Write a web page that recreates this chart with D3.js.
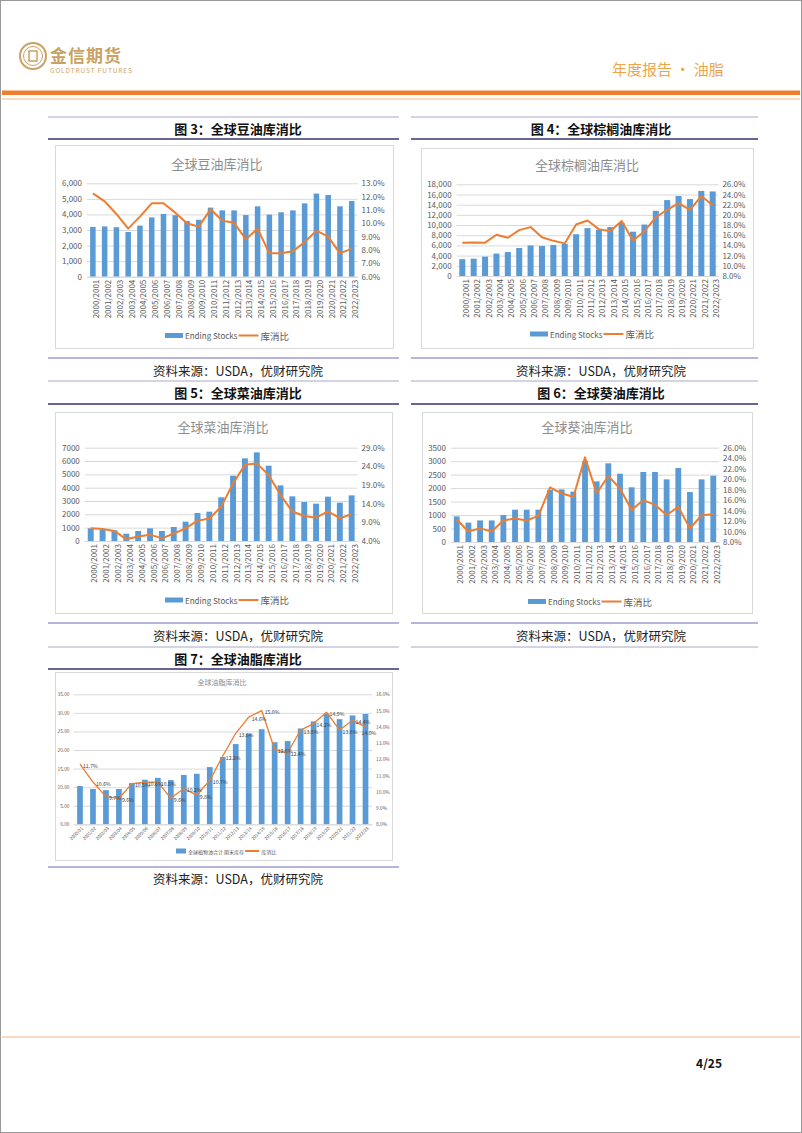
<!DOCTYPE html>
<html>
<head>
<meta charset="utf-8">
<script src="https://cdn.jsdelivr.net/npm/d3@7/dist/d3.min.js"></script>
<style>
  body { margin: 0; background: #fff; }
  text { font-family: "Noto Sans CJK SC", "Noto Sans", sans-serif; }
</style>
</head>
<body>
<svg id="page" width="802" height="1133"></svg>
<script>
// categories
var years = ["2000/2001","2001/2002","2002/2003","2003/2004","2004/2005","2005/2006","2006/2007",
  "2007/2008","2008/2009","2009/2010","2010/2011","2011/2012","2012/2013","2013/2014","2014/2015",
  "2015/2016","2016/2017","2017/2018","2018/2019","2019/2020","2020/2021","2021/2022","2022/2023"];
var yearsShort = ["2000/01","2001/02","2002/03","2003/04","2004/05","2005/06","2006/07","2007/08",
  "2008/09","2009/10","2010/11","2011/12","2012/13","2013/14","2014/15","2015/16","2016/17",
  "2017/18","2018/19","2019/20","2020/21","2021/22","2022/23"];

// 豆油
var soyStocks = [3200,3230,3180,2870,3280,3810,4030,3950,3580,3660,4440,4260,4260,3960,4520,3990,4140,4260,4710,5340,5250,4520,4860];
var soyRatio = [12.25,11.65,10.7,9.6,10.5,11.5,11.5,10.8,10.0,9.75,11.05,10.2,10.05,8.8,9.6,7.75,7.75,7.9,8.6,9.45,9.0,7.75,8.1];
// 棕榈油
var palmStocks = [3300,3400,3800,4400,4700,5500,6000,5900,6100,6300,8200,9400,9100,9600,10400,8700,10100,12800,14900,15700,15100,16700,16600];
var palmRatio = [14.55,14.6,14.55,16.1,15.5,17.0,17.6,15.6,14.9,14.4,18.1,18.9,17.2,16.8,18.8,14.9,16.8,19.5,21.0,22.3,21.0,23.7,21.9];
// 菜油
var rapeStocks = [950,850,800,550,750,950,750,1050,1450,2100,2200,3275,4900,6200,6650,5650,4175,3350,2925,2800,3325,2875,3425];
var rapeRatio = [7.4,7.2,6.7,4.45,5.2,5.7,4.7,6.0,7.4,9.45,10.0,13.2,19.4,24.4,24.8,21.7,16.3,11.9,10.7,10.25,11.95,10.1,11.2];
// 葵油
var sunStocks = [950,720,800,800,1000,1200,1200,1200,1930,1950,1870,3000,2250,2920,2535,2030,2600,2600,2325,2745,1855,2325,2460];
var sunRatio = [12.3,10.0,10.6,10.0,12.1,12.5,12.1,13.0,18.4,17.3,16.6,24.15,17.3,20.6,18.2,14.1,16.0,15.1,13.15,14.7,10.6,13.1,13.3];
// 油脂合计
var oilStocks = [10.3,9.5,9.2,9.5,11.1,12.0,12.5,11.9,13.3,13.6,15.4,18.1,21.6,24.3,25.6,22.1,22.4,25.8,27.7,29.8,28.3,29.3,29.7];
var oilRatio = [11.7,10.6,9.7,9.6,10.5,10.6,10.6,9.6,10.2,9.8,10.7,12.2,13.6,14.6,15.0,12.6,12.4,13.8,14.2,14.9,13.8,14.4,14.0];

var BLUE = "#5b9bd5", ORANGE = "#ed7d31", GREY = "#595959", GRID = "#d9d9d9";

var svg = d3.select("#page");

// page frame + header
svg.append("rect").attr("x", 0.5).attr("y", 0.5).attr("width", 801).attr("height", 1132)
  .attr("fill", "#fff").attr("stroke", "#9a9a9a");

var logo = svg.append("g").attr("transform", "translate(33,56)");
logo.append("circle").attr("r", 13).attr("fill", "none").attr("stroke", "#c9a263").attr("stroke-width", 2);
logo.append("circle").attr("r", 9.5).attr("fill", "none").attr("stroke", "#c9a263").attr("stroke-width", 1);
logo.append("rect").attr("x", -4).attr("y", -5).attr("width", 8).attr("height", 10)
  .attr("fill", "none").attr("stroke", "#c9a263").attr("stroke-width", 1.5);
svg.append("text").attr("x", 50).attr("y", 62).text("金信期货")
  .attr("font-size", 17).attr("font-weight", "bold").attr("fill", "#c9a263").attr("letter-spacing", 1);
svg.append("text").attr("x", 50).attr("y", 73).text("GOLDTRUST FUTURES")
  .attr("font-size", 6.5).attr("fill", "#c9a263").attr("letter-spacing", 0.9);
svg.append("text").attr("x", 612).attr("y", 75).text("年度报告 • 油脂")
  .attr("font-size", 15).attr("fill", "#eea54a");

svg.append("rect").attr("x", 2).attr("y", 90.5).attr("width", 798).attr("height", 4.5).attr("fill", ORANGE);
svg.append("line").attr("x1", 2).attr("x2", 800).attr("y1", 99).attr("y2", 99)
  .attr("stroke", "#f4b183").attr("stroke-width", 1);

// table lines and captions
var cols = [{x1: 48, x2: 399, cx: 238}, {x1: 411, x2: 758, cx: 601}];
function hline(col, y, color, w) {
  svg.append("line").attr("x1", col.x1).attr("x2", col.x2).attr("y1", y).attr("y2", y)
    .attr("stroke", color).attr("stroke-width", w);
}
function caption(col, y, txt) {
  svg.append("text").attr("x", col.cx).attr("y", y).attr("text-anchor", "middle")
    .attr("dominant-baseline", "central").attr("font-size", 13).attr("font-weight", "bold")
    .attr("fill", "#111").text(txt);
}
function source(col, y) {
  svg.append("text").attr("x", col.cx).attr("y", y).attr("text-anchor", "middle")
    .attr("dominant-baseline", "central").attr("font-size", 12.5).attr("fill", "#222")
    .text("资料来源：USDA，优财研究院");
}

[0, 1].forEach(function (i) {
  var c = cols[i];
  hline(c, 117, "#a8a8c8", 1);
  hline(c, 139, "#34346e", 1.5);
  hline(c, 358, "#9d9dcc", 1.5);
  hline(c, 381, "#a8a8c8", 1);
  hline(c, 404, "#34346e", 1.5);
  hline(c, 623, "#9d9dcc", 1.5);
  hline(c, 647, "#a8a8c8", 1);
  source(c, 370);
  source(c, 635);
});
caption(cols[0], 128, "图 3：全球豆油库消比");
caption(cols[1], 128, "图 4：全球棕榈油库消比");
caption(cols[0], 392.5, "图 5：全球菜油库消比");
caption(cols[1], 392.5, "图 6：全球葵油库消比");
caption(cols[0], 658, "图 7：全球油脂库消比");
hline(cols[0], 669, "#34346e", 1.5);
hline(cols[0], 867, "#9d9dcc", 1.5);
source(cols[0], 878);

// footer
svg.append("line").attr("x1", 2).attr("x2", 800).attr("y1", 1037).attr("y2", 1037)
  .attr("stroke", "#f4b183").attr("stroke-width", 1);
svg.append("text").attr("x", 722).attr("y", 1068).attr("text-anchor", "end")
  .attr("font-family", "Liberation Serif").attr("font-weight", "bold").attr("font-size", 12)
  .attr("fill", "#111").text("4/25");

// combo chart: bars on left axis, ratio line on right axis
function combo(o) {
  var g = svg.append("g");
  var fs = o.fs || 8;
  g.append("rect").attr("x", o.box[0] + 0.5).attr("y", o.box[1] + 0.5)
    .attr("width", o.box[2] - o.box[0]).attr("height", o.box[3] - o.box[1])
    .attr("fill", "#fff").attr("stroke", GRID);
  g.append("text").attr("x", o.titleX).attr("y", o.titleY).attr("text-anchor", "middle")
    .attr("dominant-baseline", "central").attr("font-size", o.titleFs || 13)
    .attr("fill", "#8c8c8c").text(o.title);

  var x = d3.scaleBand().domain(o.cats).range([o.l, o.r]).paddingInner(o.pad).paddingOuter(o.pad / 2);
  var yL = d3.scaleLinear().domain([0, o.yMax]).range([o.b, o.t]);
  var yR = d3.scaleLinear().domain([o.rMin, o.rMax]).range([o.b, o.t]);
  var lTicks = d3.range(0, o.yMax + o.yStep / 2, o.yStep);
  var rTicks = d3.range(o.rMin, o.rMax + o.rStep / 2, o.rStep);

  var grid = g.append("g").attr("transform", "translate(" + o.l + ",0)")
    .call(d3.axisLeft(yL).tickValues(lTicks).tickSize(-(o.r - o.l)).tickFormat(""));
  grid.select(".domain").remove();
  grid.selectAll("line").attr("stroke", GRID);

  var la = g.append("g").attr("transform", "translate(" + o.l + ",0)")
    .call(d3.axisLeft(yL).tickValues(lTicks).tickSize(0).tickPadding(o.lPad || 5).tickFormat(o.lFmt));
  la.select(".domain").remove();
  la.selectAll("text").attr("fill", GREY).attr("font-size", fs).attr("font-family", "Noto Sans");

  var ra = g.append("g").attr("transform", "translate(" + o.r + ",0)")
    .call(d3.axisRight(yR).tickValues(rTicks).tickSize(0).tickPadding(o.rPad || 4)
      .tickFormat(function (d) { return d.toFixed(1) + "%"; }));
  ra.select(".domain").remove();
  ra.selectAll("text").attr("fill", GREY).attr("font-size", fs).attr("font-family", "Noto Sans");

  g.selectAll(".bar").data(o.stocks).enter().append("rect")
    .attr("x", function (d, i) { return x(o.cats[i]); })
    .attr("y", function (d) { return yL(d); })
    .attr("width", x.bandwidth())
    .attr("height", function (d) { return o.b - yL(d); })
    .attr("fill", BLUE);

  var xa = g.append("g").attr("transform", "translate(0," + o.b + ")")
    .call(d3.axisBottom(x).tickSize(0).tickPadding(0));
  xa.select(".domain").attr("stroke", GRID);
  xa.selectAll("text").attr("fill", GREY).attr("font-size", o.xFs || fs).attr("font-family", "Noto Sans")
    .attr("text-anchor", "end").attr("dy", null)
    .attr("transform", "translate(" + (o.xRot === -45 ? 2 : 3) + "," + (o.xOff || 3) + ") rotate(" + (o.xRot || -90) + ")")
    .attr("dominant-baseline", "central");

  var line = d3.line()
    .x(function (d, i) { return x(o.cats[i]) + x.bandwidth() / 2; })
    .y(function (d) { return yR(d); });
  g.append("path").datum(o.ratio).attr("d", line).attr("fill", "none")
    .attr("stroke", ORANGE).attr("stroke-width", o.lw || 2).attr("stroke-linejoin", "round");

  if (o.labels) {
    var n = o.ratio.length;
    g.selectAll(".dl").data(o.ratio).enter().append("text")
      .attr("x", function (d, i) { return x(o.cats[i]) + x.bandwidth() / 2 + (i === n - 1 ? -4 : 3); })
      .attr("y", function (d, i) { return yR(d) + (i === n - 1 ? 6 : 1); })
      .attr("font-size", 5.2).attr("fill", "#404040").attr("font-family", "Noto Sans")
      .attr("dominant-baseline", "central")
      .text(function (d) { return d.toFixed(1) + "%"; });
  }

  // legend
  var lg = g.append("g").attr("transform", "translate(" + o.legX + "," + o.legY + ")");
  var lfs = o.legFs || 8;
  lg.append("rect").attr("x", 0).attr("y", -2.5).attr("width", o.legRect || 18).attr("height", 5).attr("fill", BLUE);
  var t1 = lg.append("text").attr("x", (o.legRect || 18) + 2).attr("y", 0).attr("dominant-baseline", "central")
    .attr("font-size", lfs).attr("fill", GREY).text(o.legText);
  var w1 = t1.node().getComputedTextLength();
  var lx = (o.legRect || 18) + 3 + w1;
  var lw = o.legLine || 20;
  lg.append("line").attr("x1", lx).attr("x2", lx + lw).attr("y1", 0).attr("y2", 0)
    .attr("stroke", ORANGE).attr("stroke-width", 2);
  lg.append("text").attr("x", lx + lw + 2).attr("y", 0).attr("dominant-baseline", "central")
    .attr("font-size", o.legFs2 || lfs + 1.5).attr("fill", GREY).text("库消比");
}

var comma = d3.format(",");
var plain = d3.format("d");

combo({ box: [55, 145, 393, 348], title: "全球豆油库消比", titleX: 217, titleY: 163,
  cats: years, stocks: soyStocks, ratio: soyRatio, l: 87, r: 357.6, t: 183.3, b: 276.7, pad: 0.53,
  yMax: 6000, yStep: 1000, lFmt: comma, rMin: 6, rMax: 13, rStep: 1, legX: 165, legY: 335.5, legText: "Ending Stocks" });

combo({ box: [421, 148, 753, 348], title: "全球棕榈油库消比", titleX: 587, titleY: 164,
  cats: years, stocks: palmStocks, ratio: palmRatio, l: 456.6, r: 718.4, t: 184.3, b: 276, pad: 0.47,
  yMax: 18000, yStep: 2000, lFmt: comma, rMin: 8, rMax: 26, rStep: 2, legX: 530, legY: 334, legText: "Ending Stocks" });

combo({ box: [55, 412, 392, 613], title: "全球菜油库消比", titleX: 223, titleY: 426.5,
  cats: years, stocks: rapeStocks, ratio: rapeRatio, l: 84.8, r: 357.6, t: 447.7, b: 541, pad: 0.5,
  yMax: 7000, yStep: 1000, lFmt: plain, rMin: 4, rMax: 29, rStep: 5, legX: 165, legY: 600, legText: "Ending Stocks" });

combo({ box: [422, 412, 752, 613], title: "全球葵油库消比", titleX: 587, titleY: 426.5,
  cats: years, stocks: sunStocks, ratio: sunRatio, l: 450.9, r: 719.1, t: 447.7, b: 542, pad: 0.5,
  yMax: 3500, yStep: 500, lFmt: plain, rMin: 8, rMax: 26, rStep: 2, legX: 528, legY: 601.5, legText: "Ending Stocks" });

combo({ box: [55, 672, 392, 860], title: "全球油脂库消比", titleX: 222, titleY: 682, titleFs: 7,
  cats: yearsShort, stocks: oilStocks, ratio: oilRatio, l: 73.5, r: 372, t: 694.3, b: 824.3, pad: 0.56,
  yMax: 35, yStep: 5, lFmt: d3.format(".2f"), rMin: 8, rMax: 16, rStep: 1, fs: 4.8, lPad: 4, rPad: 4,
  xRot: -45, xFs: 4.5, xOff: 3, lw: 1.3, labels: true,
  legX: 176, legY: 851, legText: "全球植物油合计 期末库存", legFs: 5, legFs2: 5, legRect: 10, legLine: 14 });
</script>
</body>
</html>
